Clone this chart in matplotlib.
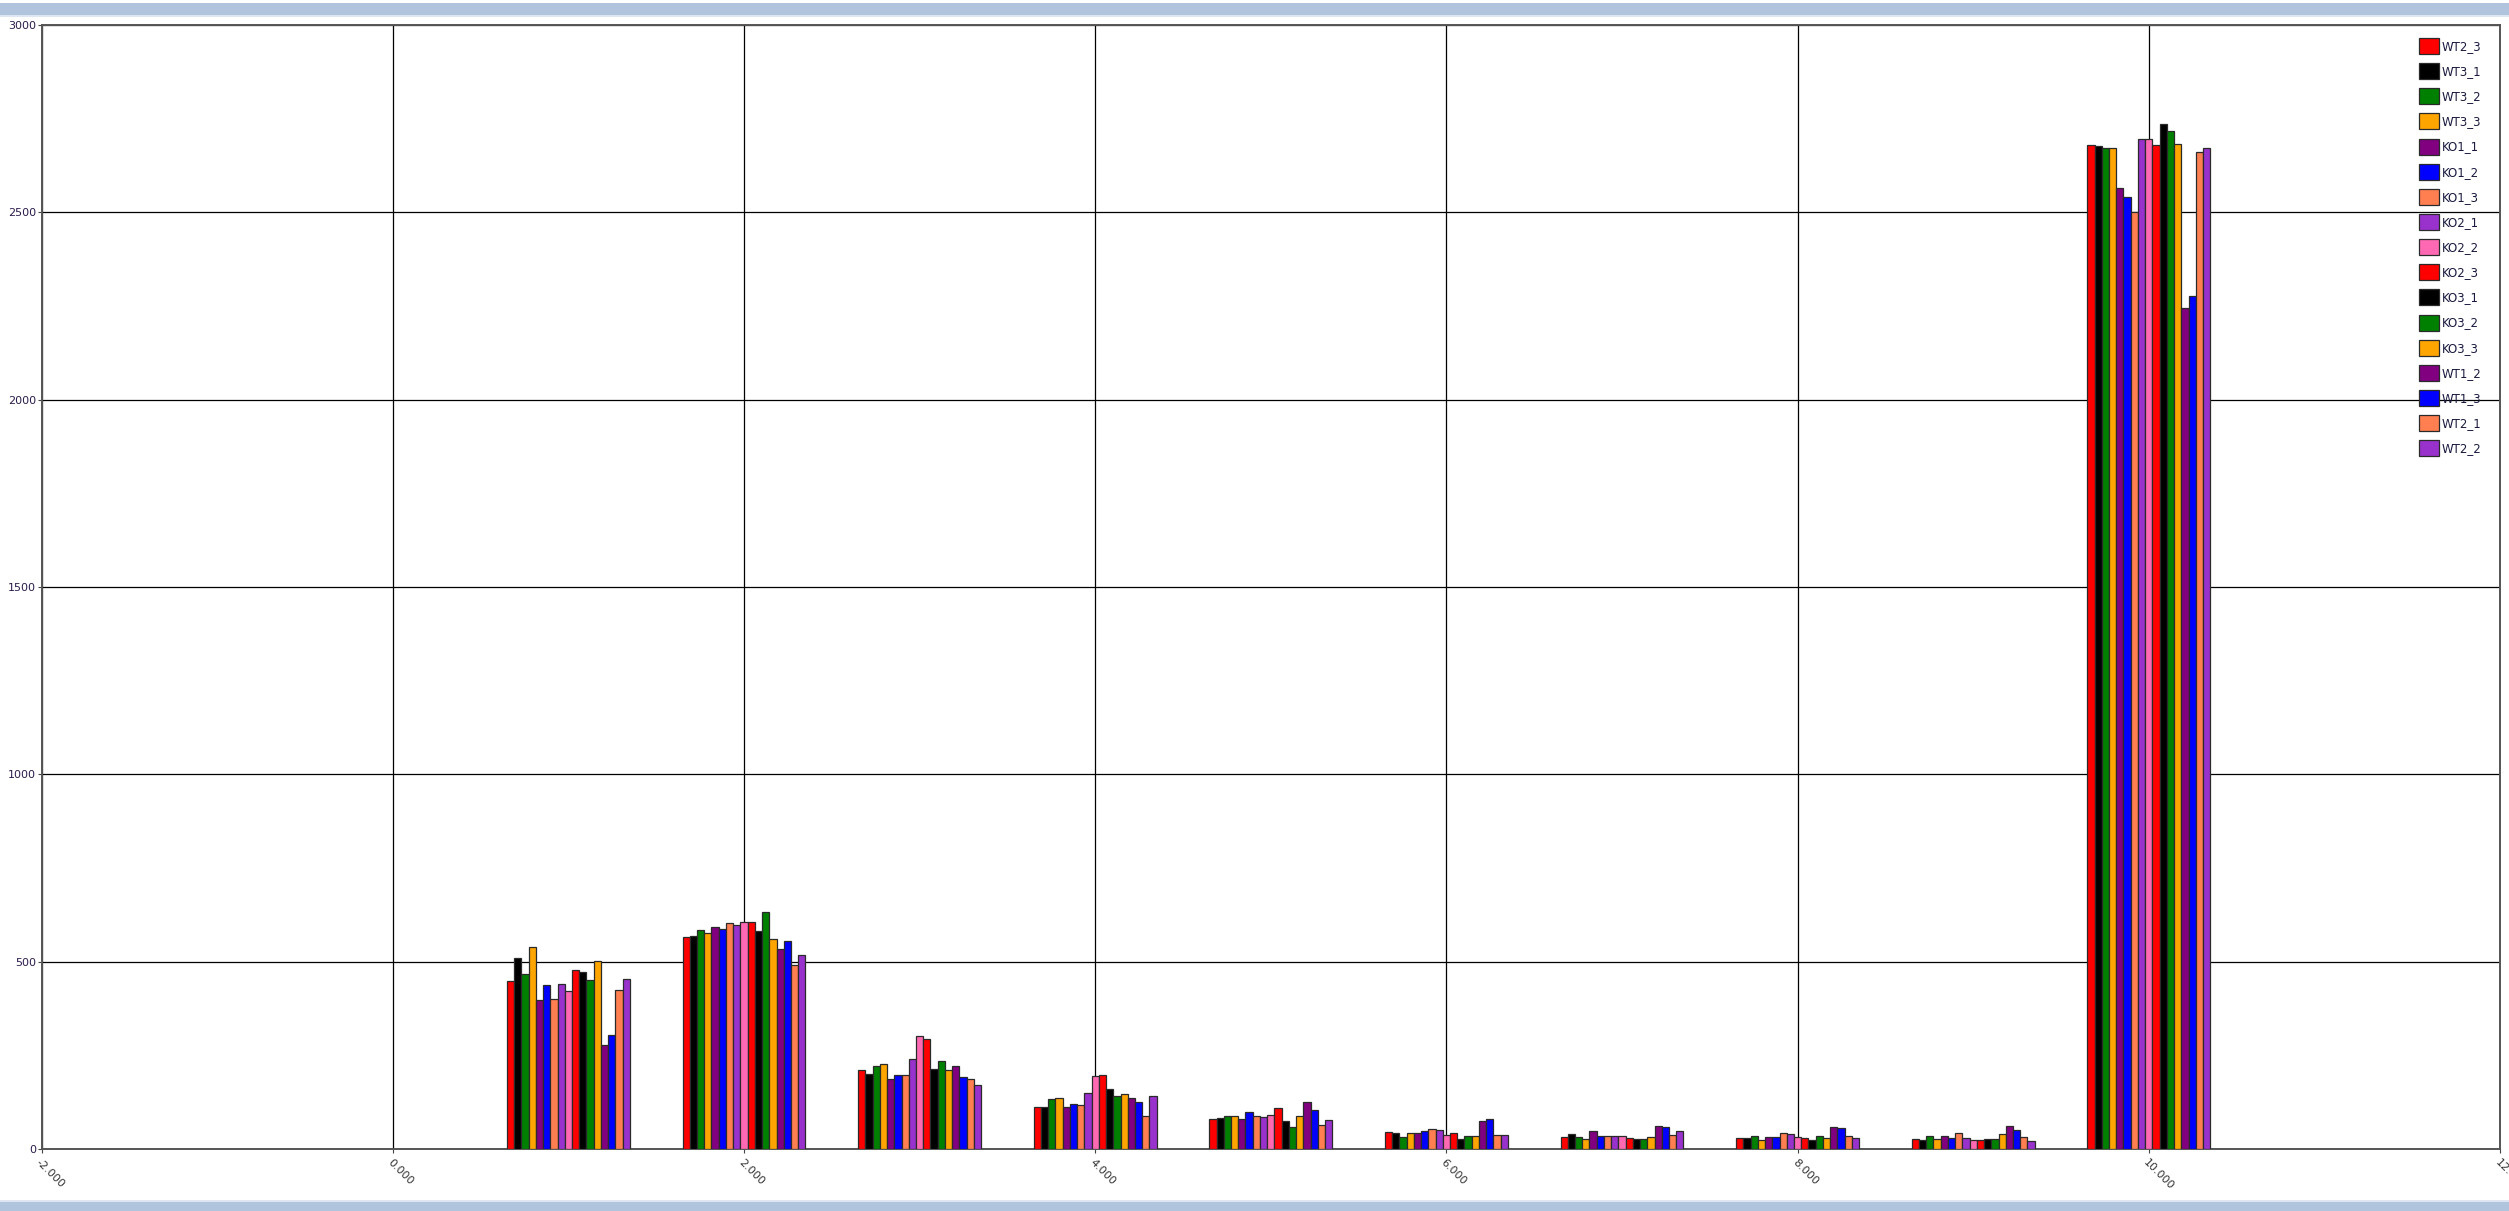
import matplotlib
matplotlib.use("Agg")
import matplotlib.pyplot as plt
from matplotlib.patches import Rectangle
import numpy as np

# Sample names, in drawing order
samples = ["WT2_3", "WT3_1", "WT3_2", "WT3_3", "KO1_1", "KO1_2", "KO1_3",
           "KO2_1", "KO2_2", "KO2_3", "KO3_1", "KO3_2", "KO3_3",
           "WT1_2", "WT1_3", "WT2_1", "WT2_2"]

colors = ["#FF0000", "#000000", "#008000", "#FFA500", "#800080", "#0000FF",
          "#FF7F50", "#9932CC", "#FF69B4", "#FF0000", "#000000", "#008000",
          "#FFA500", "#800080", "#0000FF", "#FF7F50", "#9932CC"]

# Bin positions on the x axis
bins = [1, 2, 3, 4, 5, 6, 7, 8, 9, 10]

# Counts per bin, one list per sample
counts = {
    "WT2_3": [448, 566, 210, 112, 79, 46, 33, 30, 26, 2680],
    "WT3_1": [509, 568, 201, 113, 84, 44, 41, 29, 25, 2676],
    "WT3_2": [467, 585, 222, 134, 87, 32, 31, 36, 34, 2671],
    "WT3_3": [540, 577, 228, 136, 87, 44, 27, 25, 27, 2671],
    "KO1_1": [399, 593, 187, 113, 81, 44, 47, 31, 34, 2564],
    "KO1_2": [437, 586, 198, 121, 100, 47, 35, 33, 30, 2542],
    "KO1_3": [400, 602, 198, 118, 88, 54, 35, 42, 43, 2500],
    "KO2_1": [441, 598, 240, 150, 85, 51, 35, 40, 29, 2696],
    "KO2_2": [423, 607, 302, 194, 91, 37, 35, 33, 24, 2697],
    "KO2_3": [479, 606, 293, 198, 110, 44, 30, 30, 24, 2680],
    "KO3_1": [473, 581, 213, 161, 76, 28, 28, 25, 28, 2735],
    "KO3_2": [452, 632, 235, 141, 60, 36, 28, 34, 27, 2718],
    "KO3_3": [502, 560, 211, 146, 88, 36, 32, 30, 39, 2683],
    "WT1_2": [278, 534, 221, 137, 125, 75, 61, 58, 62, 2245],
    "WT1_3": [305, 554, 193, 126, 103, 81, 58, 55, 52, 2277],
    "WT2_1": [425, 492, 187, 89, 65, 37, 38, 36, 33, 2660],
    "WT2_2": [455, 518, 171, 141, 77, 37, 48, 29, 22, 2671],
}

x_ticks = [-2, 0, 2, 4, 6, 8, 10, 12]
x_tick_labels = ["-2.000", "0.000", "2.000", "4.000", "6.000", "8.000", "10.000", "12.000"]
y_ticks = [0, 500, 1000, 1500, 2000, 2500, 3000]

W, H = 2509, 1211
fig = plt.figure(figsize=(W / 100, H / 100), dpi=100)
fig.patch.set_facecolor("white")

# Header and footer bands
fig.patches.append(Rectangle((0, (H - 15) / H), 1, 12 / H, transform=fig.transFigure,
                             facecolor="#B0C4DE", edgecolor="none", zorder=0))
fig.patches.append(Rectangle((0, (H - 17) / H), 1, 2 / H, transform=fig.transFigure,
                             facecolor="#DDE6F1", edgecolor="none", zorder=0))
fig.patches.append(Rectangle((0, 0), 1, 9 / H, transform=fig.transFigure,
                             facecolor="#B0C4DE", edgecolor="none", zorder=0))
fig.patches.append(Rectangle((0, 9 / H), 1, 2 / H, transform=fig.transFigure,
                             facecolor="#DDE6F1", edgecolor="none", zorder=0))

left, right = 41.6 / W, 2500 / W
bottom, top = (H - 1149) / H, (H - 25) / H
ax = fig.add_axes([left, bottom, right - left, top - bottom])

n = len(samples)
group_width = 0.7
bw = group_width / n
x = np.array(bins, dtype=float)
handles = []
for k, name in enumerate(samples):
    offs = (k - (n - 1) / 2) * bw
    bars = ax.bar(x + offs, counts[name], width=bw, color=colors[k],
                  edgecolor="#2a2a2a", linewidth=0.9, zorder=3, label=name)
    handles.append(bars)

ax.set_xlim(-2, 12)
ax.set_ylim(0, 3000)
ax.set_xticks(x_ticks)
ax.set_xticklabels(x_tick_labels, rotation=-45, ha="left", va="top",
                   rotation_mode="anchor", fontsize=8, color="#333333")
ax.set_yticks(y_ticks)
ax.set_yticklabels([str(v) for v in y_ticks], fontsize=8, color="#2B1B4B")
ax.tick_params(axis="x", length=3, width=0.8, color="#444444", pad=3)
ax.tick_params(axis="y", length=3, width=0.8, color="#444444", pad=1)
ax.grid(True, color="#000000", linewidth=0.9, zorder=0)
ax.set_axisbelow(True)
for s in ax.spines.values():
    s.set_color("#555555")
    s.set_linewidth(1.4)

leg = ax.legend(handles=handles, labels=samples, loc="upper left",
                bbox_to_anchor=(2419 / W, (H - 38) / H),
                bbox_transform=fig.transFigure, frameon=False, fontsize=8.5,
                handlelength=1.7, handleheight=1.7, labelspacing=0.78,
                handletextpad=0.25, borderpad=0, borderaxespad=0)
for t in leg.get_texts():
    t.set_color("#1A1A40")

fig.savefig("out.png", dpi=100, facecolor="white")
